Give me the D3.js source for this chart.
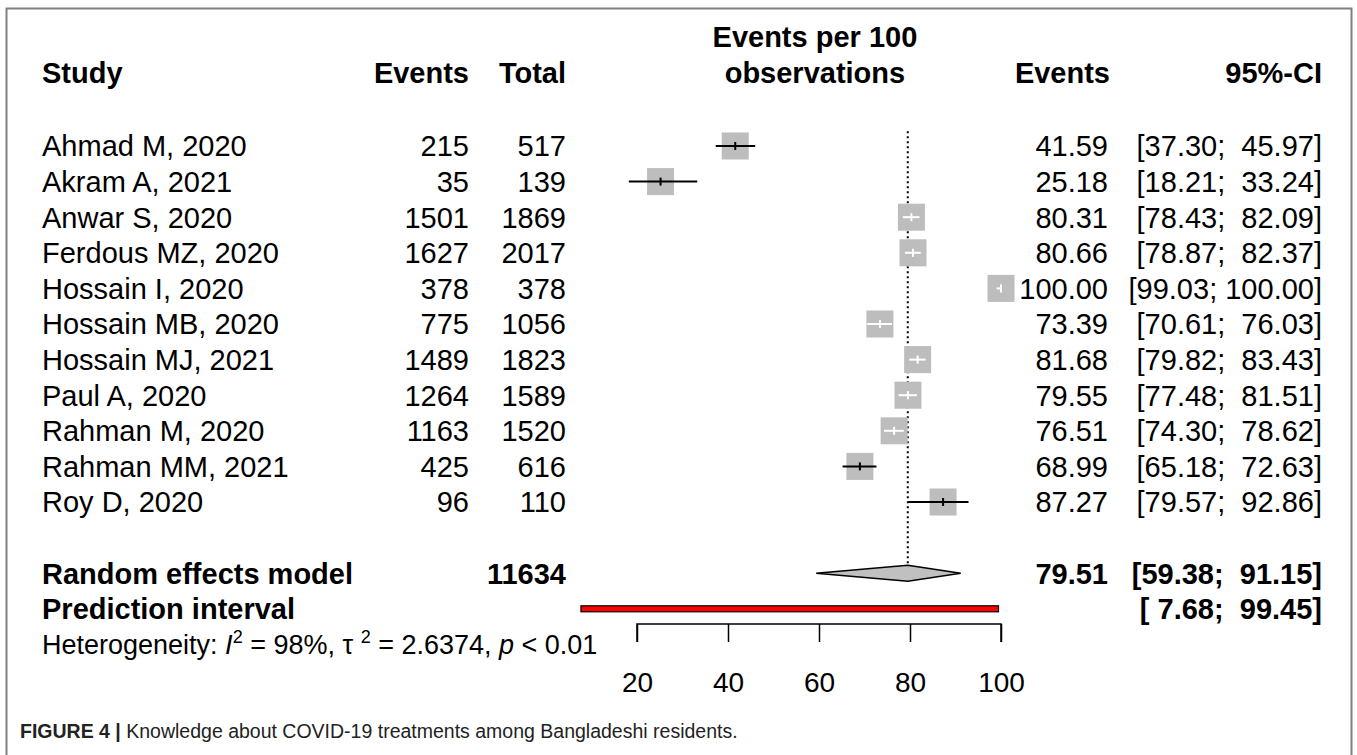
<!DOCTYPE html>
<html>
<head>
<meta charset="utf-8">
<script src="https://cdn.jsdelivr.net/npm/d3@7"></script>
<style>
  body { margin: 0; background: #fff; }
  svg text { font-family: "Liberation Sans", Arial, Helvetica, sans-serif; white-space: pre; }
</style>
</head>
<body>
<svg id="chart" width="1357" height="755"></svg>
<script>
// study data
const studies = ["Ahmad M, 2020", "Akram A, 2021", "Anwar S, 2020", "Ferdous MZ, 2020", "Hossain I, 2020",
  "Hossain MB, 2020", "Hossain MJ, 2021", "Paul A, 2020", "Rahman M, 2020", "Rahman MM, 2021", "Roy D, 2020"];
const events = [215, 35, 1501, 1627, 378, 775, 1489, 1264, 1163, 425, 96];
const totals = [517, 139, 1869, 2017, 378, 1056, 1823, 1589, 1520, 616, 110];
const estimates = [41.59, 25.18, 80.31, 80.66, 100.00, 73.39, 81.68, 79.55, 76.51, 68.99, 87.27];
const lower = [37.30, 18.21, 78.43, 78.87, 99.03, 70.61, 79.82, 77.48, 74.30, 65.18, 79.57];
const upper = [45.97, 33.24, 82.09, 82.37, 100.00, 76.03, 83.43, 81.51, 78.62, 72.63, 92.86];

// pooled results
const pooledTotal = 11634;
const pooled = { est: 79.51, lo: 59.38, hi: 91.15 };
const predInt = { lo: 7.68, hi: 99.45 };
const axisTicks = [20, 40, 60, 80, 100];

const svg = d3.select("#chart");
const fs = 29;

// frame
svg.append("rect")
  .attr("x", 6.5).attr("y", 8.5)
  .attr("width", 1345).attr("height", 800)
  .attr("fill", "none").attr("stroke", "#808080").attr("stroke-width", 2);

var x = d3.scaleLinear().domain([20, 100]).range([637, 1001]);
var y = d3.scaleLinear().domain([0, studies.length - 1]).range([146, 502]);
var step = y(1) - y(0);

const colStudy = 42, colEvents = 469, colTotal = 566, colEst = 1108, colCI = 1322;

function txt(xp, yp, s, anchor, bold) {
  return svg.append("text")
    .attr("x", xp).attr("y", yp).attr("dy", "0.36em")
    .attr("text-anchor", anchor)
    .attr("font-size", fs)
    .attr("font-weight", bold ? "bold" : "normal")
    .attr("fill", "#000")
    .text(s);
}

function ciText(lo, hi) {
  return "[" + lo.toFixed(2).padStart(5, " ") + "; " + hi.toFixed(2).padStart(6, " ") + "]";
}

// headers
var hy = y(0) - 2 * step - 2;
var forestMid = (x(d3.min(lower)) + x(100)) / 2;
txt(forestMid, hy - 36, "Events per 100", "middle", true);
txt(forestMid, hy, "observations", "middle", true);
txt(colStudy, hy, "Study", "start", true);
txt(colEvents, hy, "Events", "end", true);
txt(colTotal, hy, "Total", "end", true);
txt(1110, hy, "Events", "end", true);
txt(colCI, hy, "95%-CI", "end", true);

// study rows
studies.forEach(function(s, i) {
  txt(colStudy, y(i), s, "start");
  txt(colEvents, y(i), String(events[i]), "end");
  txt(colTotal, y(i), String(totals[i]), "end");
  txt(colEst, y(i), estimates[i].toFixed(2), "end");
  txt(colCI, y(i), ciText(lower[i], upper[i]), "end");
});

var yRE = y(studies.length - 1) + 2 * step;
var yPI = yRE + step;

// reference line at pooled estimate
svg.append("line")
  .attr("x1", x(pooled.est)).attr("x2", x(pooled.est))
  .attr("y1", y(0) - step / 2 + 3).attr("y2", yRE - 8)
  .attr("stroke", "#000").attr("stroke-width", 2)
  .attr("stroke-dasharray", "2,3");

// squares + CI lines
const box = 27;
var rows = svg.selectAll("g.study")
  .data(studies.map(function(s, i) { return { i: i, est: estimates[i], lo: lower[i], hi: upper[i] }; }))
  .enter().append("g").attr("class", "study");

rows.append("rect")
  .attr("x", d => x(d.est) - box / 2)
  .attr("y", d => y(d.i) - box / 2)
  .attr("width", box).attr("height", box)
  .attr("fill", "#bdbdbd");

function lineCol(d) { return (x(d.hi) - x(d.lo)) > box ? "#000" : "#fff"; }

rows.append("line")
  .attr("x1", d => x(d.lo)).attr("x2", d => x(d.hi))
  .attr("y1", d => y(d.i)).attr("y2", d => y(d.i))
  .attr("stroke", lineCol).attr("stroke-width", 2);

rows.append("line")
  .attr("x1", d => x(d.est)).attr("x2", d => x(d.est))
  .attr("y1", d => y(d.i) - 4).attr("y2", d => y(d.i) + 4)
  .attr("stroke", lineCol).attr("stroke-width", 2);

// random effects diamond
svg.append("path")
  .attr("d", d3.line()([[x(pooled.lo), yRE], [x(pooled.est), yRE - 8], [x(pooled.hi), yRE], [x(pooled.est), yRE + 8]]) + "Z")
  .attr("fill", "#c0c0c0").attr("stroke", "#000").attr("stroke-width", 1.5);

// prediction interval bar
svg.append("rect")
  .attr("x", x(predInt.lo)).attr("y", yPI - 3)
  .attr("width", x(predInt.hi) - x(predInt.lo)).attr("height", 6)
  .attr("fill", "#ff0000").attr("stroke", "#000").attr("stroke-width", 1.2);

txt(colStudy, yRE, "Random effects model", "start", true);
txt(colTotal, yRE, String(pooledTotal), "end", true);
txt(colEst, yRE, pooled.est.toFixed(2), "end", true);
txt(colCI, yRE, ciText(pooled.lo, pooled.hi), "end", true);
txt(colStudy, yPI, "Prediction interval", "start", true);
txt(colCI, yPI, ciText(predInt.lo, predInt.hi), "end", true);

// heterogeneity
var het = svg.append("text")
  .attr("x", colStudy).attr("y", yPI + step).attr("dy", "0.36em")
  .attr("font-size", 27).attr("fill", "#000");
het.append("tspan").text("Heterogeneity: ");
het.append("tspan").attr("font-style", "italic").text("I");
het.append("tspan").attr("dy", -11).attr("font-size", 18).text("2");
het.append("tspan").attr("dy", 11).text(" = 98%, \u03c4 ");
het.append("tspan").attr("dy", -11).attr("font-size", 18).text("2");
het.append("tspan").attr("dy", 11).text(" = 2.6374, ");
het.append("tspan").attr("font-style", "italic").text("p");
het.append("tspan").text(" < 0.01");

// axis
var axisY = 624;
var gAxis = svg.append("g")
  .attr("transform", "translate(0," + axisY + ")")
  .call(d3.axisBottom(x).tickValues(axisTicks).tickSize(18).tickPadding(30).tickFormat(d3.format("d")));
gAxis.select(".domain").attr("d", "M" + x(20) + ",18V0H" + x(100) + "V18").attr("stroke", "#000").attr("stroke-width", 1.5);
gAxis.selectAll(".tick line").attr("stroke", "#000").attr("stroke-width", 1.5);
gAxis.selectAll(".tick text")
  .attr("font-size", 28).attr("font-family", "Liberation Sans, Arial, sans-serif").attr("fill", "#000");

// caption
var cap = svg.append("text")
  .attr("x", 20).attr("y", 738)
  .attr("font-size", 19.5).attr("fill", "#222");
cap.append("tspan").attr("font-weight", "bold").text("FIGURE 4 | ");
cap.append("tspan").text("Knowledge about COVID-19 treatments among Bangladeshi residents.");
</script>
</body>
</html>
